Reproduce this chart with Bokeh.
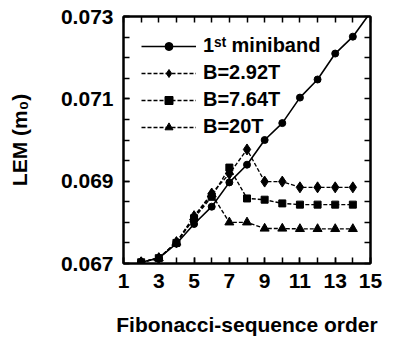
from bokeh.plotting import figure
from bokeh.models import Range1d, FixedTicker, LinearAxis, Legend, LegendItem
from bokeh.embed import file_html
from bokeh.resources import INLINE

# ---- data ----
x_mini = [2, 3, 4, 5, 6, 7, 8, 9, 10, 11, 12, 13, 14, 15]
miniband = [0.06703, 0.06713, 0.06748, 0.06796, 0.06838, 0.06897, 0.06940,
            0.07000, 0.07041, 0.07103, 0.07147, 0.07210, 0.07251, 0.07310]

x_b = [2, 3, 4, 5, 6, 7, 8, 9, 10, 11, 12, 13, 14]
b_292 = [0.06703, 0.06713, 0.06752, 0.06815, 0.06870, 0.06918, 0.06977,
         0.06899, 0.06899, 0.06885, 0.06885, 0.06885, 0.06885]
b_764 = [0.06703, 0.06713, 0.06750, 0.06810, 0.06862, 0.06933, 0.06858,
         0.06855, 0.06846, 0.06843, 0.06843, 0.06843, 0.06843]
b_20 = [0.06703, 0.06713, 0.06751, 0.06812, 0.06868, 0.06800, 0.06800,
        0.06785, 0.06785, 0.06784, 0.06784, 0.06784, 0.06784]

x_label_ticks = [1, 3, 5, 7, 9, 11, 13, 15]
x_minor_ticks = list(range(1, 16))
y_label_ticks = [0.067, 0.069, 0.071, 0.073]
y_minor_ticks = [0.067, 0.0675, 0.068, 0.0685, 0.069, 0.0695, 0.070, 0.0705,
                 0.071, 0.0715, 0.072, 0.0725, 0.073]

labels = ["1\u02e2\u1d57 miniband", "B=2.92T", "B=7.64T", "B=20T"]

FONT = "Liberation Sans"

p = figure(width=396, height=343, output_backend="svg", toolbar_location=None,
           x_range=Range1d(1, 15), y_range=Range1d(0.067, 0.073),
           min_border_left=123, min_border_right=26, min_border_top=16,
           min_border_bottom=80, background_fill_color="white",
           border_fill_color="white")
p.xgrid.visible = False
p.ygrid.visible = False
p.outline_line_color = "black"
p.outline_line_width = 2


def style_axis(ax):
    ax.axis_line_color = "black"
    ax.axis_line_width = 2
    ax.major_tick_in = 6
    ax.major_tick_out = 0
    ax.minor_tick_in = 6
    ax.minor_tick_out = 0
    ax.major_tick_line_width = 1.5
    ax.minor_tick_line_width = 1.5
    ax.major_tick_line_color = "black"
    ax.minor_tick_line_color = "black"
    ax.major_label_text_font = FONT
    ax.major_label_text_font_style = "bold"
    ax.major_label_text_font_size = "21px"
    ax.major_label_text_color = "black"
    ax.major_label_standoff = 10
    ax.axis_label_text_font = FONT
    ax.axis_label_text_font_style = "bold"
    ax.axis_label_text_font_size = "21px"
    ax.axis_label_text_color = "black"


p.xaxis.ticker = FixedTicker(ticks=x_label_ticks, minor_ticks=x_minor_ticks)
p.yaxis.ticker = FixedTicker(ticks=y_label_ticks, minor_ticks=y_minor_ticks)
style_axis(p.xaxis[0])
style_axis(p.yaxis[0])
p.xaxis.axis_label = "Fibonacci-sequence order"
p.yaxis.axis_label = "LEM (m\u2080)"
p.xaxis.axis_label_standoff = 22
p.yaxis.axis_label_standoff = 27

# mirror axes: ticks only (no major ticks -> no labels)
top = LinearAxis(ticker=FixedTicker(ticks=[], minor_ticks=x_minor_ticks))
right = LinearAxis(ticker=FixedTicker(ticks=[], minor_ticks=y_minor_ticks))
style_axis(top)
style_axis(right)
p.add_layout(top, "above")
p.add_layout(right, "right")

# ---- series ----
l0 = p.line(x_mini, miniband, line_color="black", line_width=1.6)
s0 = p.scatter(x_mini, miniband, marker="circle", size=7, color="black")

dash = "4 2"
l1 = p.line(x_b, b_292, line_color="black", line_width=1.4, line_dash=dash)
s1 = p.scatter(x_b, b_292, marker="diamond", size=11, color="black")
l2 = p.line(x_b, b_764, line_color="black", line_width=1.4, line_dash=dash)
s2 = p.scatter(x_b, b_764, marker="square", size=7, color="black")
l3 = p.line(x_b, b_20, line_color="black", line_width=1.4, line_dash=dash)
s3 = p.scatter(x_b, b_20, marker="triangle", size=9, color="black")

legend = Legend(items=[
    LegendItem(label=labels[0], renderers=[l0, s0]),
    LegendItem(label=labels[1], renderers=[l1, s1]),
    LegendItem(label=labels[2], renderers=[l2, s2]),
    LegendItem(label=labels[3], renderers=[l3, s3]),
], location="top_left")
legend.border_line_color = None
legend.background_fill_alpha = 0
legend.label_text_font = FONT
legend.label_text_font_style = "bold"
legend.label_text_font_size = "20px"
legend.label_text_color = "black"
legend.glyph_width = 55
legend.glyph_height = 20
legend.label_height = 20
legend.spacing = 4
legend.padding = 11
legend.margin = 18
legend.label_standoff = 7
p.add_layout(legend)

open("out.html", "w").write(file_html(p, INLINE))
